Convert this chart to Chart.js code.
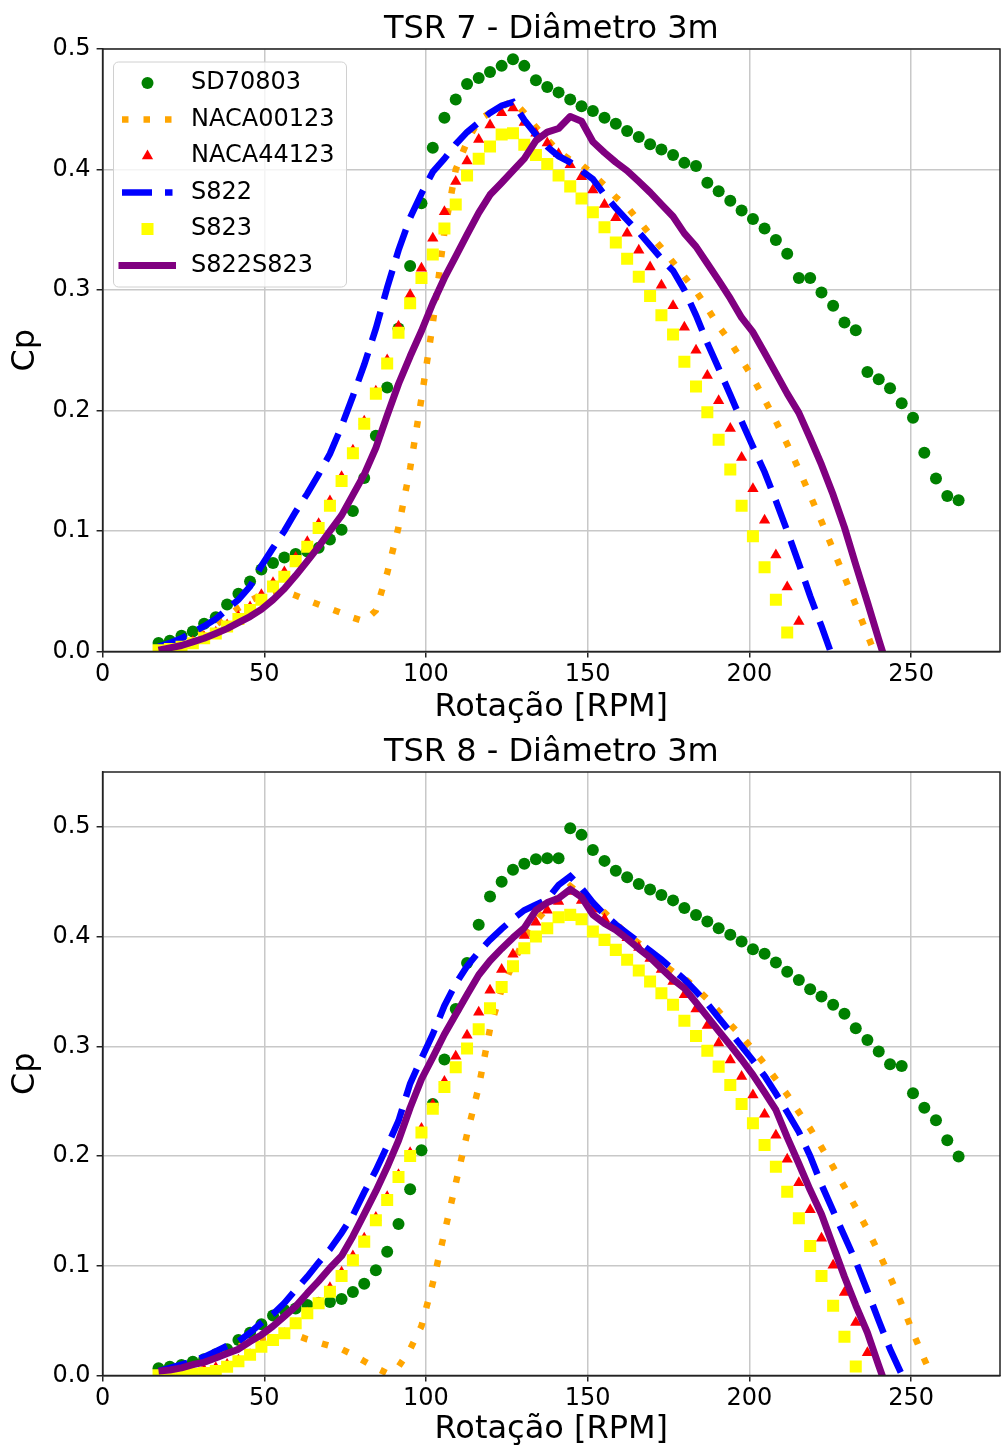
<!DOCTYPE html>
<html>
<head>
<meta charset="utf-8">
<title>TSR 7 / TSR 8 - Diâmetro 3m</title>
<script src="https://cdn.jsdelivr.net/npm/chart.js@4.4.0/dist/chart.umd.min.js"></script>
<style>
  html, body { margin: 0; padding: 0; background: #fff; }
  .painel { position: absolute; left: 0; width: 1002px; height: 725px; }
</style>
</head>
<body>
<div class="painel" style="top:0"><canvas id="graficoTsr7" width="1002" height="725"></canvas></div>
<div class="painel" style="top:725px"><canvas id="graficoTsr8" width="1002" height="725"></canvas></div>
<script>
// Rotação [RPM] comum a todas as séries
const rpm = [
  17.3, 20.8, 24.4, 27.9, 31.4, 35.0, 38.5, 42.0, 45.6, 49.1,
  52.7, 56.2, 59.7, 63.3, 66.8, 70.3, 73.9, 77.4, 80.9, 84.5,
  88.0, 91.5, 95.1, 98.6, 102.1, 105.7, 109.2, 112.7, 116.3, 119.8,
  123.4, 126.9, 130.4, 134.0, 137.5, 141.0, 144.6, 148.1, 151.6, 155.2,
  158.7, 162.2, 165.8, 169.3, 172.8, 176.4, 179.9, 183.5, 187.0, 190.5,
  194.1, 197.6, 201.1, 204.7, 208.2, 211.7, 215.3, 218.8, 222.3, 225.9,
  229.4, 232.9, 236.5, 240.0, 243.5, 247.1, 250.6, 254.1, 257.7, 261.2,
  264.7
];

const xTicks = [0, 50, 100, 150, 200, 250];
const yTicks = [0, 0.1, 0.2, 0.3, 0.4, 0.5];

// ---- TSR 7 ----
const cp7_sd70803 = [
  0.007, 0.009, 0.013, 0.0165, 0.023, 0.0285, 0.039, 0.048, 0.058, 0.068,
  0.0735, 0.078, 0.081, 0.083, 0.086, 0.093, 0.101, 0.1165, 0.144, 0.179,
  0.219, 0.268, 0.32, 0.372, 0.418, 0.443, 0.458, 0.471, 0.476, 0.481,
  0.486, 0.4915, 0.486, 0.474, 0.4685, 0.464, 0.458, 0.4525, 0.4485, 0.443,
  0.438, 0.432, 0.427, 0.421, 0.4165, 0.412, 0.4055, 0.403, 0.389, 0.382,
  0.374, 0.366, 0.359, 0.351, 0.3415, 0.330, 0.310, 0.310, 0.298, 0.287,
  0.273, 0.2665, 0.232, 0.226, 0.2185, 0.206, 0.194, 0.165, 0.1435, 0.129,
  0.1255
];
const cp7_naca00123 = [
  0.002, 0.004, 0.007, 0.011, 0.016, 0.022, 0.029, 0.036, 0.042, 0.047,
  0.050, 0.050, 0.0465, 0.0425, 0.039, 0.0355, 0.032, 0.028, 0.025, 0.034,
  0.065, 0.103, 0.152, 0.21, 0.272, 0.348, 0.40, 0.423, 0.441, 0.447,
  0.452, 0.457, 0.447, 0.435, 0.425, 0.415, 0.408, 0.404, 0.396, 0.387,
  0.377, 0.369, 0.3575, 0.346, 0.335, 0.323, 0.311, 0.299, 0.285, 0.27,
  0.257, 0.242, 0.227, 0.209, 0.191, 0.172, 0.151, 0.1295, 0.108, 0.0845,
  0.062, 0.0385, 0.014, -0.01
];
const cp7_naca44123 = [
  0.0015, 0.003, 0.005, 0.008, 0.012, 0.016, 0.022, 0.029, 0.037, 0.047,
  0.057, 0.066, 0.078, 0.091, 0.106, 0.125, 0.145, 0.167, 0.191, 0.216,
  0.242, 0.27, 0.296, 0.318, 0.343, 0.365, 0.390, 0.407, 0.425, 0.437,
  0.447, 0.451, 0.439, 0.430, 0.422, 0.413, 0.404, 0.394, 0.383, 0.371,
  0.36, 0.347, 0.333, 0.319, 0.304, 0.287, 0.269, 0.25, 0.229, 0.208,
  0.185, 0.161, 0.135, 0.109, 0.080, 0.0535, 0.025
];
const cp7_s822 = [
  0.004, 0.007, 0.011, 0.016, 0.021, 0.027, 0.035, 0.043, 0.054, 0.071,
  0.086, 0.100, 0.116, 0.131, 0.147, 0.164, 0.187, 0.212, 0.238, 0.268,
  0.302, 0.333, 0.36, 0.380, 0.398, 0.409, 0.421, 0.431, 0.439, 0.447,
  0.453, 0.456, 0.441, 0.429, 0.419, 0.411, 0.406, 0.399, 0.392, 0.379,
  0.368, 0.358, 0.348, 0.337, 0.326, 0.316, 0.300, 0.279, 0.256, 0.235,
  0.213, 0.191, 0.170, 0.149, 0.125, 0.100, 0.073, 0.046, 0.021, -0.006
];
const cp7_s823 = [
  0.001, 0.002, 0.004, 0.0068, 0.011, 0.015, 0.0207, 0.027, 0.0345, 0.043,
  0.054, 0.062, 0.075, 0.087, 0.1025, 0.121, 0.1415, 0.1645, 0.189, 0.214,
  0.239, 0.2645, 0.289, 0.310, 0.3295, 0.351, 0.371, 0.395, 0.409, 0.419,
  0.429, 0.430, 0.4205, 0.412, 0.4045, 0.395, 0.386, 0.376, 0.3645, 0.352,
  0.3395, 0.326, 0.311, 0.295, 0.279, 0.263, 0.2405, 0.220, 0.1985, 0.1757,
  0.151, 0.121, 0.0957, 0.070, 0.043, 0.0157
];
const cp7_s822s823 = [
  0.001, 0.003, 0.005, 0.008, 0.011, 0.015, 0.019, 0.024, 0.029, 0.035,
  0.043, 0.052, 0.063, 0.075, 0.087, 0.1, 0.113, 0.13, 0.147, 0.169,
  0.196, 0.222, 0.245, 0.266, 0.289, 0.31, 0.328, 0.346, 0.364, 0.379,
  0.389, 0.399, 0.409, 0.424, 0.431, 0.434, 0.444, 0.440, 0.423, 0.414,
  0.406, 0.399, 0.39, 0.381, 0.371, 0.361, 0.347, 0.336, 0.322, 0.308,
  0.293, 0.277, 0.265, 0.248, 0.231, 0.214, 0.198, 0.177, 0.155, 0.130,
  0.103, 0.072, 0.041, 0.01, -0.02
];

// ---- TSR 8 ----
const cp8_sd70803 = [
  0.0066, 0.008, 0.0096, 0.0126, 0.0148, 0.0194, 0.024, 0.0323, 0.039, 0.0467,
  0.0547, 0.0597, 0.061, 0.0643, 0.066, 0.067, 0.0697, 0.076, 0.0837, 0.096,
  0.1128, 0.138, 0.1697, 0.2052, 0.2475, 0.288, 0.334, 0.376, 0.4107, 0.4365,
  0.450, 0.461, 0.4663, 0.4705, 0.4715, 0.4715, 0.4988, 0.4927, 0.479, 0.469,
  0.460, 0.454, 0.448, 0.443, 0.438, 0.433, 0.426, 0.4197, 0.4137, 0.4077,
  0.4016, 0.3955, 0.3885, 0.3843, 0.3763, 0.368, 0.3605, 0.352, 0.3453, 0.3378,
  0.3296, 0.3165, 0.3058, 0.2952, 0.2837, 0.2821, 0.2573, 0.2441, 0.2326, 0.2144,
  0.1995
];
const cp8_naca00123 = [
  0.001, 0.003, 0.005, 0.008, 0.012, 0.016, 0.021, 0.026, 0.031, 0.034,
  0.036, 0.038, 0.037, 0.033, 0.030, 0.027, 0.024, 0.019, 0.013, 0.007,
  0.002, 0.008, 0.024, 0.045, 0.084, 0.13, 0.175, 0.22, 0.263, 0.316,
  0.352, 0.375, 0.398, 0.414, 0.426, 0.436, 0.446, 0.438, 0.430, 0.422,
  0.412, 0.402, 0.394, 0.385, 0.376, 0.368, 0.362, 0.353, 0.343, 0.332,
  0.32, 0.309, 0.297, 0.284, 0.27, 0.256, 0.24, 0.225, 0.208, 0.19,
  0.172, 0.153, 0.133, 0.112, 0.09, 0.065, 0.039, 0.0148, -0.009
];
const cp8_naca44123 = [
  0.0005, 0.001, 0.002, 0.003, 0.005, 0.007, 0.01, 0.014, 0.019, 0.025,
  0.031, 0.038, 0.047, 0.057, 0.066, 0.08, 0.094, 0.109, 0.125, 0.144,
  0.163, 0.183, 0.203, 0.225, 0.247, 0.268, 0.291, 0.31, 0.331, 0.351,
  0.37, 0.384, 0.401, 0.413, 0.424, 0.432, 0.441, 0.433, 0.425, 0.416,
  0.408, 0.399, 0.39, 0.38, 0.37, 0.359, 0.347, 0.334, 0.319, 0.303,
  0.2876, 0.2724, 0.2557, 0.238, 0.219, 0.197, 0.1757, 0.151, 0.125, 0.1005,
  0.0757, 0.0484, 0.0208
];
const cp8_s822 = [
  0.004, 0.007, 0.010, 0.013, 0.017, 0.022, 0.027, 0.031, 0.039, 0.048,
  0.056, 0.066, 0.078, 0.09, 0.103, 0.115, 0.13, 0.146, 0.167, 0.187,
  0.209, 0.232, 0.266, 0.289, 0.311, 0.337, 0.357, 0.373, 0.386, 0.397,
  0.407, 0.416, 0.424, 0.429, 0.434, 0.447, 0.455, 0.444, 0.431, 0.42,
  0.411, 0.403, 0.395, 0.387, 0.379, 0.37, 0.361, 0.35, 0.339, 0.326,
  0.313, 0.300, 0.287, 0.273, 0.257, 0.240, 0.222, 0.200, 0.174, 0.15,
  0.127, 0.104, 0.077, 0.05, 0.024, 0.001, -0.024
];
const cp8_s823 = [
  0.0003, 0.0006, 0.001, 0.0015, 0.0022, 0.004, 0.008, 0.013, 0.019, 0.0262,
  0.0324, 0.0385, 0.0476, 0.0567, 0.0658, 0.0764, 0.0907, 0.105, 0.122, 0.1415,
  0.160, 0.181, 0.2, 0.2215, 0.243, 0.263, 0.281, 0.298, 0.3156, 0.3347,
  0.354, 0.373, 0.3894, 0.40, 0.4077, 0.4177, 0.4198, 0.4159, 0.4046, 0.397,
  0.3879, 0.3788, 0.369, 0.359, 0.3484, 0.3378, 0.3234, 0.3095, 0.296, 0.2815,
  0.2648, 0.2475, 0.2299, 0.2101, 0.1903, 0.1675, 0.1433, 0.118, 0.0907, 0.0636,
  0.0353, 0.0082
];
const cp8_s822s823 = [
  0.004, 0.005, 0.007, 0.01, 0.012, 0.016, 0.02, 0.024, 0.031, 0.037,
  0.045, 0.054, 0.063, 0.075, 0.086, 0.098, 0.109, 0.127, 0.147, 0.168,
  0.19, 0.214, 0.244, 0.27, 0.29, 0.311, 0.329, 0.347, 0.365, 0.378,
  0.389, 0.399, 0.408, 0.424, 0.431, 0.435, 0.443, 0.436, 0.42, 0.412,
  0.406, 0.398, 0.389, 0.381, 0.371, 0.361, 0.353, 0.34, 0.327, 0.314,
  0.301, 0.288, 0.274, 0.258, 0.242, 0.217, 0.193, 0.169, 0.147, 0.118,
  0.09, 0.064, 0.039, 0.009, -0.02
];

Chart.defaults.font.family = "'DejaVu Sans', sans-serif";
Chart.defaults.color = '#000';

// transforma uma série em pontos {x, y}
function pontos(valores) {
  return valores.map((v, i) => ({ x: rpm[i], y: v }));
}

function montarSeries(sd, n00, n44, s822, s823, s822s823) {
  return [
    { label: 'SD70803', data: pontos(sd), showLine: false, pointStyle: 'circle',
      pointRadius: 6, backgroundColor: 'green', borderColor: 'green', pointBorderWidth: 0, order: 6 },
    { label: 'NACA00123', data: pontos(n00), showLine: true, pointRadius: 0,
      borderColor: 'orange', borderWidth: 6.5, borderDash: [6.5, 15], order: 5 },
    { label: 'NACA44123', data: pontos(n44), showLine: false, pointStyle: 'triangle',
      pointRadius: 6.5, backgroundColor: 'red', borderColor: 'red', pointBorderWidth: 0, order: 4 },
    { label: 'S822', data: pontos(s822), showLine: true, pointRadius: 0,
      borderColor: 'blue', borderWidth: 6.5, borderDash: [30, 13], order: 3 },
    { label: 'S823', data: pontos(s823), showLine: false, pointStyle: 'rect',
      pointRadius: 8.5, backgroundColor: 'yellow', borderColor: 'yellow', pointBorderWidth: 0, order: 2 },
    { label: 'S822S823', data: pontos(s822s823), showLine: true, pointRadius: 0,
      borderColor: 'purple', borderWidth: 7, borderJoinStyle: 'round', order: 1 }
  ].map(ds => Object.assign({ clip: 0, tension: 0, fill: false }, ds));
}

// moldura completa (as 4 bordas do eixo)
const moldura = {
  id: 'moldura',
  afterDatasetsDraw(chart) {
    const { ctx, chartArea: a } = chart;
    ctx.save();
    ctx.strokeStyle = '#222';
    ctx.lineWidth = 1.5;
    ctx.strokeRect(a.left, a.top, a.right - a.left, a.bottom - a.top);
    ctx.restore();
  }
};

// legenda dentro do gráfico, estilo matplotlib
const legendaInterna = {
  id: 'legendaInterna',
  afterDraw(chart) {
    const ctx = chart.ctx;
    ctx.save();
    ctx.beginPath();
    ctx.roundRect(113.5, 62, 233, 225, 5);
    ctx.fillStyle = 'rgba(255,255,255,0.8)';
    ctx.fill();
    ctx.strokeStyle = '#d0d0d0';
    ctx.lineWidth = 1;
    ctx.stroke();

    chart.data.datasets.forEach((ds, k) => {
      const y = 83 + k * 36.5;
      const cx = 147.5;
      if (ds.showLine) {
        ctx.beginPath();
        ctx.setLineDash(ds.borderDash || []);
        ctx.lineCap = ds.borderDash ? 'butt' : 'square';
        ctx.lineWidth = ds.borderWidth;
        ctx.strokeStyle = ds.borderColor;
        ctx.moveTo(122, y);
        ctx.lineTo(172.5, y);
        ctx.stroke();
        ctx.setLineDash([]);
      } else {
        ctx.fillStyle = ds.backgroundColor;
        const r = ds.pointRadius;
        ctx.beginPath();
        if (ds.pointStyle === 'circle') {
          ctx.arc(cx, y, r, 0, Math.PI * 2);
        } else if (ds.pointStyle === 'triangle') {
          ctx.moveTo(cx, y - r);
          ctx.lineTo(cx - r * 0.866, y + r / 2);
          ctx.lineTo(cx + r * 0.866, y + r / 2);
          ctx.closePath();
        } else {
          const h = r * Math.SQRT1_2;
          ctx.rect(cx - h, y - h, 2 * h, 2 * h);
        }
        ctx.fill();
      }
      ctx.fillStyle = '#000';
      ctx.font = "24px 'DejaVu Sans'";
      ctx.textBaseline = 'middle';
      ctx.textAlign = 'left';
      ctx.fillText(ds.label, 191, y);
    });
    ctx.restore();
  }
};

function criarGrafico(id, titulo, yMax, topoTitulo, alturaEixoX, padTituloX, series, extras) {
  const grade = { color: '#c8c8c8', lineWidth: 1.5, tickColor: '#222', tickLength: 6, tickWidth: 1.5 };
  new Chart(document.getElementById(id), {
    type: 'scatter',
    data: { datasets: series },
    options: {
      responsive: false,
      animation: false,
      events: [],
      layout: { autoPadding: false, padding: { left: 0, right: 2, top: 0, bottom: 0 } },
      plugins: {
        legend: { display: false },
        tooltip: { enabled: false },
        title: {
          display: true, text: titulo, color: '#000', fullSize: false,
          font: { size: 32, weight: 'normal', lineHeight: 1 },
          padding: { top: topoTitulo, bottom: 3.5 }
        }
      },
      scales: {
        x: {
          type: 'linear', min: 0, max: 277.5,
          afterBuildTicks: s => { s.ticks = xTicks.map(v => ({ value: v })); },
          afterFit: s => { s.height = alturaEixoX; },
          ticks: { font: { size: 24 }, color: '#000', padding: 3, maxRotation: 0,
                   callback: v => String(v) },
          grid: grade,
          border: { color: '#222', width: 1.5 },
          title: { display: true, text: 'Rotação [RPM]', color: '#000',
                   font: { size: 32, lineHeight: 1 }, padding: { top: 0, bottom: padTituloX } }
        },
        y: {
          type: 'linear', min: 0, max: yMax,
          afterBuildTicks: s => { s.ticks = yTicks.map(v => ({ value: v })); },
          afterFit: s => { s.width = 102.6; },
          ticks: { font: { size: 24 }, color: '#000', padding: 6,
                   callback: v => v.toFixed(1) },
          grid: grade,
          border: { color: '#222', width: 1.5 },
          title: { display: true, text: 'Cp', color: '#000',
                   font: { size: 32, lineHeight: 1 }, padding: { top: 10, bottom: 0 } }
        }
      }
    },
    plugins: [moldura].concat(extras)
  });
}

criarGrafico('graficoTsr7', 'TSR 7 - Diâmetro 3m', 0.5, 13.5, 73.5, 1,
  montarSeries(cp7_sd70803, cp7_naca00123, cp7_naca44123, cp7_s822, cp7_s823, cp7_s822s823),
  [legendaInterna]);

criarGrafico('graficoTsr8', 'TSR 8 - Diâmetro 3m', 0.55, 11.5, 74.5, 4,
  montarSeries(cp8_sd70803, cp8_naca00123, cp8_naca44123, cp8_s822, cp8_s823, cp8_s822s823),
  []);
</script>
</body>
</html>
